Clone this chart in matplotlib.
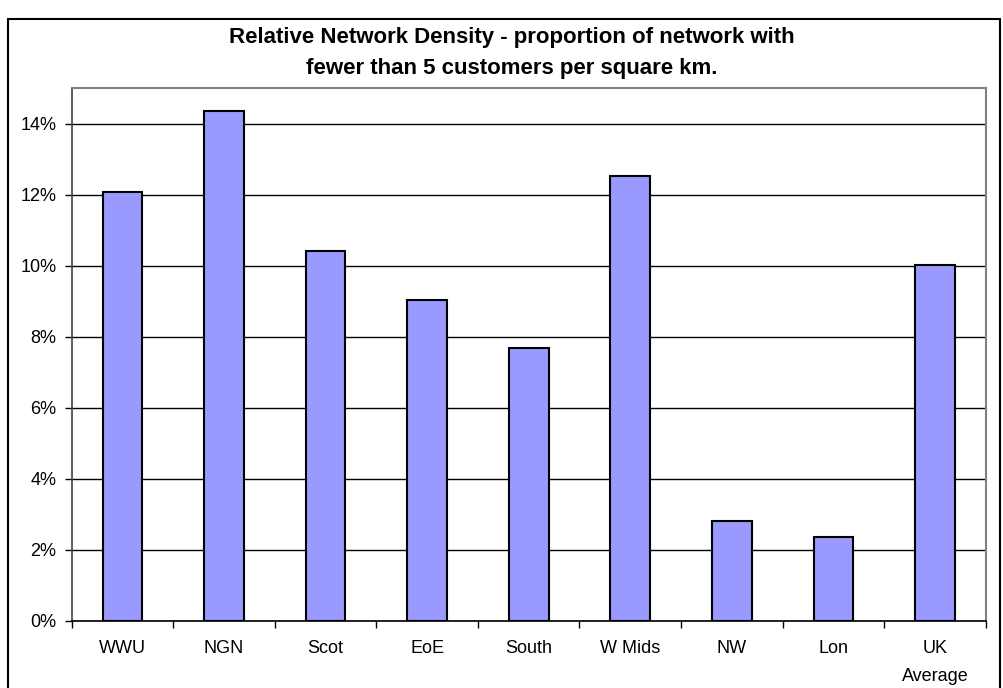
import matplotlib.pyplot as plt
from matplotlib.patches import Rectangle
from matplotlib.ticker import FuncFormatter, MultipleLocator
import numpy as np

plt.rcParams['font.family'] = ['Liberation Sans', 'DejaVu Sans']

# Data
regions = ['WWU', 'NGN', 'Scot', 'EoE', 'South', 'W Mids', 'NW', 'Lon', 'UK\nAverage']
share = [0.1207, 0.1436, 0.1041, 0.0903, 0.0769, 0.1253, 0.0282, 0.0236, 0.1003]
title = ("Relative Network Density - proportion of network with\n"
         "fewer than 5 customers per square km.")

fig = plt.figure(figsize=(10.04, 6.88), dpi=100)
ax = fig.add_axes([0.0714, 0.0974, 0.9104, 0.7747])

x = np.arange(len(regions))
ax.bar(x, share, width=0.39, color='#9999FF', edgecolor='black', linewidth=1.5, zorder=3)

ax.set_xlim(-0.5, len(regions) - 0.5)
ax.set_ylim(0, 0.15)
ax.yaxis.set_major_locator(MultipleLocator(0.02))
ax.yaxis.set_major_formatter(FuncFormatter(lambda v, p: f"{v*100:.0f}%"))
ax.grid(axis='y', color='black', linewidth=1.0, zorder=1)
ax.set_axisbelow(True)

# category boundary ticks, labels centred on bars
ax.set_xticks(np.arange(len(regions) + 1) - 0.5)
ax.set_xticklabels([])
ax.set_xticks(x, minor=True)
ax.set_xticklabels(regions, minor=True, fontsize=13, linespacing=1.85, va='top')
ax.tick_params(axis='x', which='major', direction='out', length=5, width=1, color='black')
ax.tick_params(axis='x', which='minor', length=0, pad=14)
ax.tick_params(axis='y', direction='out', length=5, width=1, labelsize=13, pad=6)

for side in ['top', 'right']:
    ax.spines[side].set_color('#808080')
    ax.spines[side].set_linewidth(1.5)
ax.spines['left'].set_color('#404040')
ax.spines['left'].set_linewidth(1.2)
ax.spines['bottom'].set_color('black')
ax.spines['bottom'].set_linewidth(1.2)

fig.text(0.51, 0.923, title, ha='center', va='center', fontsize=16,
         fontweight='bold', linespacing=1.6)

# chart area border
fig.patches.append(Rectangle((8 / 1004, -0.05), 992 / 1004, 1.05 - 19 / 688,
                             transform=fig.transFigure, fill=False,
                             edgecolor='black', linewidth=1.5))

fig.savefig('out.png', dpi=100)
